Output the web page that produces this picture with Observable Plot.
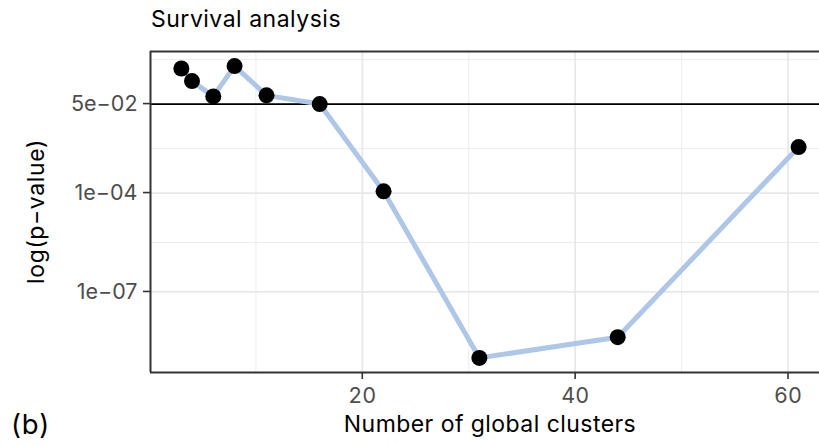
<!DOCTYPE html>
<html>
<head>
<meta charset="utf-8">
<script src="https://cdn.jsdelivr.net/npm/d3@7"></script>
<script src="https://cdn.jsdelivr.net/npm/@observablehq/plot@0.6"></script>
<style>
  html, body { margin: 0; padding: 0; background: #ffffff; overflow: hidden; }
  #chart svg { display: block; }
</style>
</head>
<body>
<div id="chart"></div>
<script>
// Survival analysis p-values by number of global clusters
const clusters = [3, 4, 6, 8, 11, 16, 22, 31, 44, 61];
const pValues = [0.60, 0.249, 0.0855, 0.71, 0.092, 0.05, 1.13e-4, 1e-9, 4.24e-9, 2.49e-3];

const threshold = 0.05;

const xTicks = [20, 40, 60];
const xMinor = [10, 30, 50];
const yTicks = [5e-2, 1e-4, 1e-7];
const yTickLabels = ["5e\u221202", "1e\u221204", "1e\u221207"];
const yMinor = [1.12, 2.24e-3, 3.16e-6];

const data = clusters.map((k, i) => ({k, p: pValues[i]}));

const font = "Inter, 'Liberation Sans', Arial, sans-serif";
const xDomain = [0.1, 63.9];
const yDomain = [10 ** -9.443, 10 ** 0.294];

const svg = Plot.plot({
  width: 819,
  height: 445,
  marginLeft: 150,
  marginTop: 51,
  marginBottom: 73,
  marginRight: 0,
  style: {fontFamily: font, background: "#ffffff", overflow: "hidden"},
  x: {domain: xDomain, range: [150, 829]},
  y: {type: "log", domain: yDomain, range: [372, 51], axis: null},
  marks: [
    // grid
    Plot.ruleX(xMinor, {stroke: "#ebebeb", strokeWidth: 0.9}),
    Plot.ruleY(yMinor, {stroke: "#ebebeb", strokeWidth: 0.9}),
    Plot.ruleX(xTicks, {stroke: "#e8e8e8", strokeWidth: 1.7}),
    Plot.ruleY(yTicks, {stroke: "#e8e8e8", strokeWidth: 1.7}),
    // significance threshold
    Plot.ruleY([threshold], {stroke: "#000000", strokeWidth: 1.8}),
    // series
    Plot.line(data, {x: "k", y: "p", stroke: "#aec7e8", strokeWidth: 5}),
    Plot.dot(data, {x: "k", y: "p", r: 8, fill: "#000000", stroke: "none"}),
    // panel border (left, top, bottom)
    Plot.ruleX([xDomain[0]], {stroke: "#333333", strokeWidth: 2}),
    Plot.ruleY([yDomain[1]], {stroke: "#333333", strokeWidth: 2}),
    Plot.ruleY([yDomain[0]], {stroke: "#333333", strokeWidth: 2}),
    // x axis
    Plot.axisX(xTicks, {
      anchor: "bottom", tickSize: 7, tickPadding: 8, fontSize: 21.5,
      color: "#4d4d4d", stroke: "#333333", strokeWidth: 1.6, label: null
    }),
    // y axis labels
    Plot.text(yTicks, {
      y: (d) => d, text: (d, i) => yTickLabels[i], frameAnchor: "left", dx: -13,
      textAnchor: "end", fontSize: 21.5, fill: "#4d4d4d"
    })
  ]
});

const s = d3.select(svg);
// y tick marks, placed with the y scale
const yScale = svg.scale("y");
s.append("g").selectAll("line").data(yTicks).join("line")
  .attr("x1", 143).attr("x2", 150)
  .attr("y1", (d) => yScale.apply(d)).attr("y2", (d) => yScale.apply(d))
  .attr("stroke", "#333333").attr("stroke-width", 1.6);

s.append("text")
  .attr("x", 151).attr("y", 27)
  .attr("text-anchor", "start")
  .attr("font-size", 23).attr("letter-spacing", 0.5).attr("fill", "#000")
  .text("Survival analysis");
s.append("text")
  .attr("x", 490).attr("y", 432)
  .attr("text-anchor", "middle")
  .attr("font-size", 23).attr("letter-spacing", 0.45).attr("fill", "#000")
  .text("Number of global clusters");
s.append("text")
  .attr("transform", "translate(44,211.5) rotate(-90)")
  .attr("text-anchor", "middle")
  .attr("font-size", 23).attr("letter-spacing", 0.6).attr("fill", "#000")
  .text("log(p\u2212value)");
s.append("text")
  .attr("x", 11).attr("y", 434)
  .attr("text-anchor", "start")
  .attr("font-size", 27.5).attr("letter-spacing", 0.8).attr("fill", "#000")
  .text("(b)");

document.getElementById("chart").append(svg);
</script>
</body>
</html>
